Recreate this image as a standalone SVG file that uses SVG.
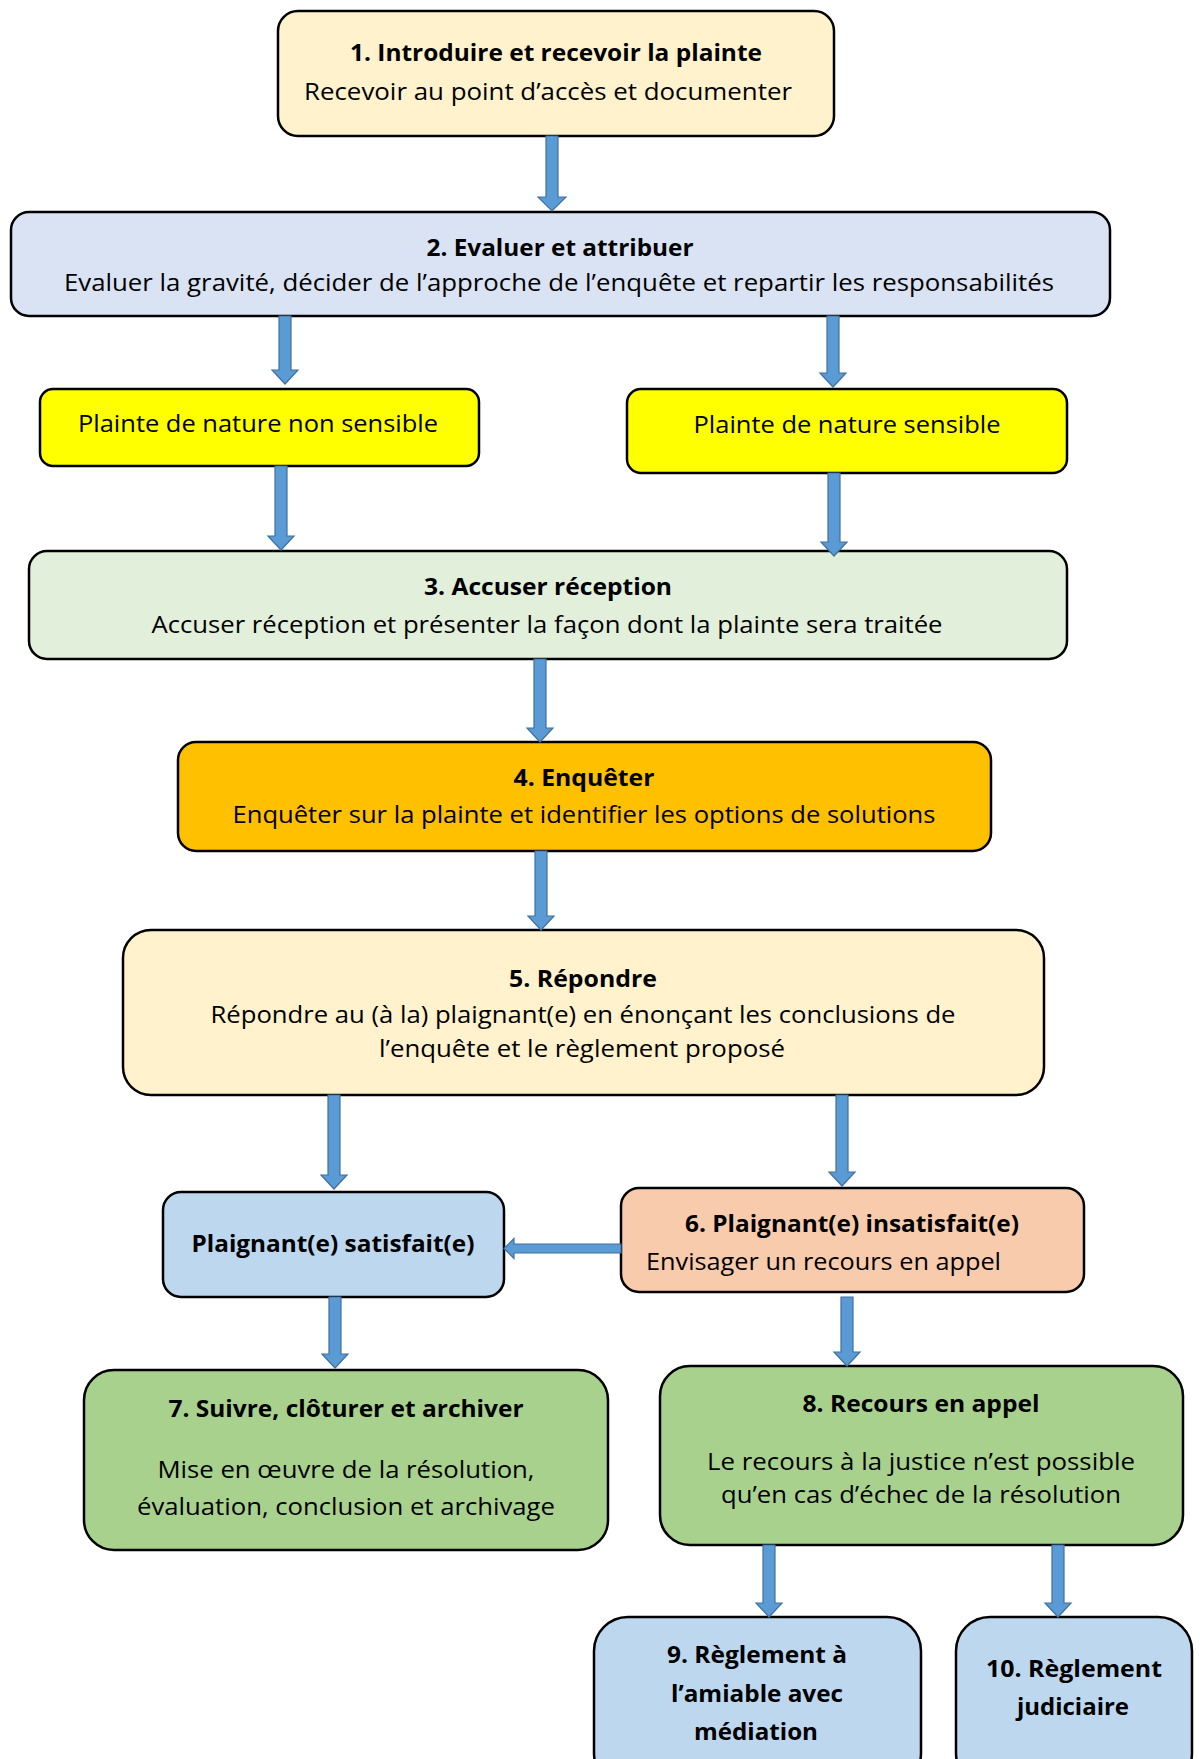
<svg xmlns="http://www.w3.org/2000/svg" width="1200" height="1759" viewBox="0 0 1200 1759">
  <style>
    .box { stroke: #000; stroke-width: 2.5; }
    .t { font-family: "Open Sans", "Noto Sans", "Liberation Sans", sans-serif; font-size: 23px; fill: #000; text-anchor: middle; }
    .b { font-weight: bold; }
    .arrow { fill: #5B9BD5; stroke: #41719C; stroke-width: 1.2; stroke-linejoin: miter; }
  </style>
  <rect width="1200" height="1759" fill="#fff"/>

  <!-- process steps -->
  <g id="step1">
    <rect class="box" x="278" y="11" width="556" height="125" rx="20" fill="#FFF2CC"/>
    <text class="t b" x="556" y="61" textLength="412" lengthAdjust="spacingAndGlyphs">1. Introduire et recevoir la plainte</text>
    <text class="t" x="548" y="100" textLength="488" lengthAdjust="spacingAndGlyphs">Recevoir au point d’accès et documenter</text>
  </g>

  <g id="step2">
    <rect class="box" x="11" y="212" width="1099" height="104" rx="18" fill="#DAE3F3"/>
    <text class="t b" x="560" y="256" textLength="267" lengthAdjust="spacingAndGlyphs">2. Evaluer et attribuer</text>
    <text class="t" x="559" y="291" textLength="990" lengthAdjust="spacingAndGlyphs">Evaluer la gravité, décider de l’approche de l’enquête et repartir les responsabilités</text>
  </g>

  <g id="non-sensible">
    <rect class="box" x="40" y="389" width="439" height="77" rx="13" fill="#FFFF00"/>
    <text class="t" x="258" y="432" textLength="360" lengthAdjust="spacingAndGlyphs">Plainte de nature non sensible</text>
  </g>

  <g id="sensible">
    <rect class="box" x="627" y="389" width="440" height="84" rx="14" fill="#FFFF00"/>
    <text class="t" x="847" y="433" textLength="307" lengthAdjust="spacingAndGlyphs">Plainte de nature sensible</text>
  </g>

  <g id="step3">
    <rect class="box" x="29" y="551" width="1038" height="108" rx="18" fill="#E2EFDA"/>
    <text class="t b" x="548" y="595" textLength="248" lengthAdjust="spacingAndGlyphs">3. Accuser réception</text>
    <text class="t" x="547" y="633" textLength="791" lengthAdjust="spacingAndGlyphs">Accuser réception et présenter la façon dont la plainte sera traitée</text>
  </g>

  <g id="step4">
    <rect class="box" x="178" y="742" width="813" height="109" rx="18" fill="#FFC000"/>
    <text class="t b" x="584" y="786" textLength="141" lengthAdjust="spacingAndGlyphs">4. Enquêter</text>
    <text class="t" x="584" y="823" textLength="703" lengthAdjust="spacingAndGlyphs">Enquêter sur la plainte et identifier les options de solutions</text>
  </g>

  <g id="step5">
    <rect class="box" x="123" y="930" width="921" height="165" rx="28" fill="#FFF2CC"/>
    <text class="t b" x="583" y="987" textLength="148" lengthAdjust="spacingAndGlyphs">5. Répondre</text>
    <text class="t" x="583" y="1023" textLength="745" lengthAdjust="spacingAndGlyphs">Répondre au (à la) plaignant(e) en énonçant les conclusions de</text>
    <text class="t" x="582" y="1057" textLength="406" lengthAdjust="spacingAndGlyphs">l’enquête et le règlement proposé</text>
  </g>

  <g id="satisfait">
    <rect class="box" x="163" y="1192" width="341" height="105" rx="18" fill="#BDD7EE"/>
    <text class="t b" x="333" y="1252" textLength="283" lengthAdjust="spacingAndGlyphs">Plaignant(e) satisfait(e)</text>
  </g>

  <g id="step6">
    <rect class="box" x="621" y="1188" width="463" height="104" rx="18" fill="#F8CBAD"/>
    <text class="t b" x="852" y="1232" textLength="334" lengthAdjust="spacingAndGlyphs">6. Plaignant(e) insatisfait(e)</text>
    <text class="t" x="646" y="1270" style="text-anchor:start" textLength="355" lengthAdjust="spacingAndGlyphs">Envisager un recours en appel</text>
  </g>

  <g id="step7">
    <rect class="box" x="84" y="1370" width="524" height="180" rx="30" fill="#A9D18E"/>
    <text class="t b" x="346" y="1417" textLength="355" lengthAdjust="spacingAndGlyphs">7. Suivre, clôturer et archiver</text>
    <text class="t" x="346" y="1478" textLength="377" lengthAdjust="spacingAndGlyphs">Mise en œuvre de la résolution,</text>
    <text class="t" x="346" y="1515" textLength="418" lengthAdjust="spacingAndGlyphs">évaluation, conclusion et archivage</text>
  </g>

  <g id="step8">
    <rect class="box" x="660" y="1366" width="523" height="179" rx="30" fill="#A9D18E"/>
    <text class="t b" x="921" y="1412" textLength="237" lengthAdjust="spacingAndGlyphs">8. Recours en appel</text>
    <text class="t" x="921" y="1470" textLength="428" lengthAdjust="spacingAndGlyphs">Le recours à la justice n’est possible</text>
    <text class="t" x="921" y="1503" textLength="400" lengthAdjust="spacingAndGlyphs">qu’en cas d’échec de la résolution</text>
  </g>

  <g id="step9">
    <rect class="box" x="594" y="1617" width="327" height="170" rx="34" fill="#BDD7EE"/>
    <text class="t b" x="757" y="1663" textLength="180" lengthAdjust="spacingAndGlyphs">9. Règlement à</text>
    <text class="t b" x="757" y="1702" textLength="172" lengthAdjust="spacingAndGlyphs">l’amiable avec</text>
    <text class="t b" x="756" y="1740" textLength="124" lengthAdjust="spacingAndGlyphs">médiation</text>
  </g>

  <g id="step10">
    <rect class="box" x="956" y="1617" width="236" height="170" rx="34" fill="#BDD7EE"/>
    <text class="t b" x="1074" y="1677" textLength="176" lengthAdjust="spacingAndGlyphs">10. Règlement</text>
    <text class="t b" x="1073" y="1715" textLength="112" lengthAdjust="spacingAndGlyphs">judiciaire</text>
  </g>

  <!-- block arrows between steps -->
  <g id="connectors">
    <path class="arrow" d="M546,136 H558 V197 H566 L552,211 L538,197 H546 Z"/>
    <path class="arrow" d="M279,316 H291 V370 H298 L285,384 L272,370 H279 Z"/>
    <path class="arrow" d="M827,316 H839 V373 H846 L833,387 L820,373 H827 Z"/>
    <path class="arrow" d="M275,466 H287 V536 H294 L281,550 L268,536 H275 Z"/>
    <path class="arrow" d="M828,473 H840 V542 H847 L834,556 L821,542 H828 Z"/>
    <path class="arrow" d="M534,659 H546 V728 H553 L540,742 L527,728 H534 Z"/>
    <path class="arrow" d="M535,851 H547 V916 H554 L541,930 L528,916 H535 Z"/>
    <path class="arrow" d="M328,1095 H340 V1175 H347 L334,1189 L321,1175 H328 Z"/>
    <path class="arrow" d="M836,1095 H848 V1172 H855 L842,1186 L829,1172 H836 Z"/>
    <path class="arrow" d="M329,1297 H341 V1354 H348 L335,1368 L322,1354 H329 Z"/>
    <path class="arrow" d="M841,1297 H853 V1352 H860 L847,1366 L834,1352 H841 Z"/>
    <path class="arrow" d="M763,1545 H775 V1603 H782 L769,1617 L756,1603 H763 Z"/>
    <path class="arrow" d="M1052,1545 H1064 V1603 H1071 L1058,1617 L1045,1603 H1052 Z"/>
    <path class="arrow" d="M621,1244 V1253 H514 V1258.5 L504,1248.5 L514,1238.5 V1244 Z"/>
  </g>
</svg>
